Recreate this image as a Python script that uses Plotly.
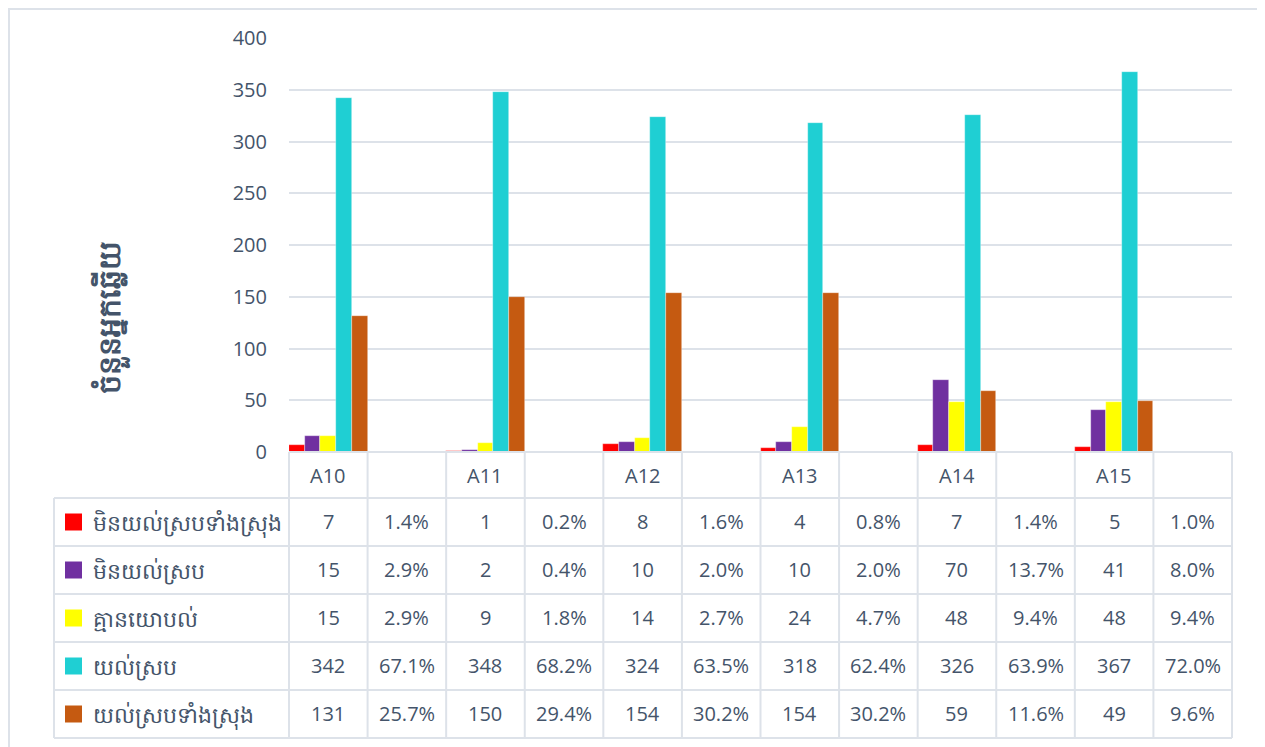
import plotly.graph_objects as go

# page body has an 8px margin, so the figure is drawn 8px smaller and shifted
OFF = 8
W, H = 1265 - OFF, 747 - OFF

groups = ["A10", "A11", "A12", "A13", "A14", "A15"]
series_names = ["មិនយល់ស្របទាំងស្រុង", "មិនយល់ស្រប", "គ្មានយោបល់", "យល់ស្រប", "យល់ស្របទាំងស្រុង"]
colors = ["#ff0000", "#7030a0", "#ffff00", "#1fcfd3", "#c55a11"]

red_counts = [7, 1, 8, 4, 7, 5]
red_pct = [1.4, 0.2, 1.6, 0.8, 1.4, 1.0]
purple_counts = [15, 2, 10, 10, 70, 41]
purple_pct = [2.9, 0.4, 2.0, 2.0, 13.7, 8.0]
yellow_counts = [15, 9, 14, 24, 48, 48]
yellow_pct = [2.9, 1.8, 2.7, 4.7, 9.4, 9.4]
cyan_counts = [342, 348, 324, 318, 326, 367]
cyan_pct = [67.1, 68.2, 63.5, 62.4, 63.9, 72.0]
orange_counts = [131, 150, 154, 154, 59, 49]
orange_pct = [25.7, 29.4, 30.2, 30.2, 11.6, 9.6]

counts = [red_counts, purple_counts, yellow_counts, cyan_counts, orange_counts]
pcts = [red_pct, purple_pct, yellow_pct, cyan_pct, orange_pct]

y_title = "ចំនួនអ្នកឆ្លើយ"
y_ticks = [0, 50, 100, 150, 200, 250, 300, 350, 400]

TEXT = "#44546a"
GRID = "#dde2e9"
FONT = "Open Sans, Noto Sans, sans-serif"

ncol = len(groups) * 2
xs = list(range(ncol))
header = []
for g in groups:
    header += [g, ""]

def px(x):
    return (x - OFF) / W

def py(y):
    return 1 - (y - OFF) / H

PL, PR, PT, PB = 289, 1232, 38, 452
col_w = (PR - PL) / ncol
TL = 54
row_edges = [452, 498, 546, 594, 642, 690, 738]

fig = go.Figure()
for name, col, c in zip(series_names, colors, counts):
    yv = []
    for a in c:
        yv += [a, None]   # percentage columns carry no visible bar
    fig.add_trace(go.Bar(x=xs, y=yv, name=name,
                         marker=dict(color=col, line=dict(color="rgba(255,255,255,0.6)", width=0.6)),
                         showlegend=False))

shapes = []
line = dict(color=GRID, width=2)
for i, ry in enumerate(row_edges):
    x0 = PL if i == 0 else TL
    shapes.append(dict(type="line", xref="paper", yref="paper", x0=px(x0), x1=px(PR), y0=py(ry), y1=py(ry), line=line))
shapes.append(dict(type="line", xref="paper", yref="paper", x0=px(TL), x1=px(TL), y0=py(row_edges[1]), y1=py(row_edges[-1]), line=line))
for k in range(ncol + 1):
    xx = PL + k * col_w
    shapes.append(dict(type="line", xref="paper", yref="paper", x0=px(xx), x1=px(xx), y0=py(row_edges[0]), y1=py(row_edges[-1]), line=line))
shapes.append(dict(type="rect", xref="paper", yref="paper", x0=px(9), x1=px(1261), y0=py(770), y1=py(9),
                   line=dict(color=GRID, width=2)))

def ann(x, y, text, size, xanchor="center", angle=0):
    return dict(x=px(x), y=py(y), xref="paper", yref="paper", text=text, showarrow=False,
                xanchor=xanchor, yanchor="middle", textangle=angle,
                font=dict(size=size, color=TEXT, family=FONT))

annotations = []
for k, t in enumerate(header):
    if t:
        annotations.append(ann(PL + (k + 0.5) * col_w, (row_edges[0] + row_edges[1]) / 2, t, 20))
for r, (name, col, c, p) in enumerate(zip(series_names, colors, counts, pcts)):
    yc = (row_edges[r + 1] + row_edges[r + 2]) / 2
    shapes.append(dict(type="rect", xref="paper", yref="paper", x0=px(65), x1=px(82), y0=py(yc - 8.5), y1=py(yc + 8.5),
                       fillcolor=col, line=dict(width=0)))
    annotations.append(ann(91, yc, name, 22, xanchor="left"))
    vals = []
    for a, b in zip(c, p):
        vals += [str(a), f"{b:.1f}%"]
    for k, v in enumerate(vals):
        annotations.append(ann(PL + (k + 0.5) * col_w, yc - 1, v, 20))
annotations.append(ann(110, 318, f"<b>{y_title}</b>", 30, angle=-90))

fig.update_layout(
    width=W, height=H,
    margin=dict(l=0, r=0, t=0, b=0, autoexpand=False),
    paper_bgcolor="white", plot_bgcolor="white",
    barmode="group", bargap=0, bargroupgap=0,
    xaxis=dict(domain=[px(PL), px(PR)], range=[-0.5, ncol - 0.5], showticklabels=False, showgrid=False,
               zeroline=False, fixedrange=True),
    yaxis=dict(domain=[py(PB), py(PT)], range=[0, 400], tickvals=y_ticks, showgrid=True, gridcolor=GRID,
               gridwidth=2, zeroline=False, ticklabelstandoff=21, automargin=False,
               tickfont=dict(size=20, color=TEXT, family=FONT)),
    shapes=shapes, annotations=annotations,
    font=dict(family=FONT),
)

fig.write_html("out.html")
